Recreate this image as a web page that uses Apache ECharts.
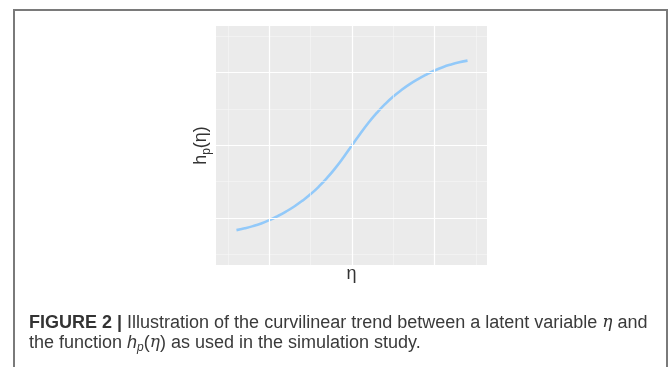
<!DOCTYPE html>
<html lang="en">
<head>
<meta charset="UTF-8">
<title>hp(eta)</title>
<script src="https://cdn.jsdelivr.net/npm/echarts@6.0.0/dist/echarts.min.js"></script>
<style>
  body { margin: 0; padding: 0; background: #fff; }
  #main { width: 670px; height: 367px; }
</style>
</head>
<body>
<div id="main"></div>
<script>
  // values
  var etaValues = [-1.4, -1.3, -1.2, -1.1, -1.0, -0.9, -0.8, -0.7, -0.6, -0.5, -0.4, -0.3, -0.2, -0.1, 0,
                   0.1, 0.2, 0.3, 0.4, 0.5, 0.6, 0.7, 0.8, 0.9, 1.0, 1.1, 1.2, 1.3, 1.4];
  var hpValues = [-1.165, -1.14, -1.11, -1.073, -1.027, -0.972, -0.91, -0.84, -0.76, -0.67, -0.565, -0.445, -0.31, -0.16, 0,
                  0.16, 0.31, 0.445, 0.565, 0.67, 0.76, 0.84, 0.91, 0.972, 1.027, 1.073, 1.11, 1.14, 1.163];
  var majorX = [-1, 0, 1];
  var minorX = [-1.5, -0.5, 0.5, 1.5];
  var majorY = [-1, 0, 1];
  var minorY = [-1.5, -0.5, 0.5, 1.5];

  var curve = etaValues.map(function (x, i) { return [x, hpValues[i]]; });

  function gridLines(xs, ys) {
    var d = [];
    xs.forEach(function (v) { d.push({ xAxis: v }); });
    ys.forEach(function (v) { d.push({ yAxis: v }); });
    return d;
  }

  var chart = echarts.init(document.getElementById('main'));
  var option = {
    animation: false,
    grid: {
      left: 216, top: 26, width: 271, height: 239,
      show: true, backgroundColor: '#ebebeb', borderWidth: 0
    },
    xAxis: {
      type: 'value', min: -1.648, max: 1.636,
      axisLine: { show: false }, axisTick: { show: false },
      axisLabel: { show: false }, splitLine: { show: false },
      name: 'η', nameLocation: 'middle', nameGap: 0,
      nameTextStyle: { fontFamily: 'Liberation Sans', fontSize: 18, color: '#333', verticalAlign: 'top' }
    },
    yAxis: {
      type: 'value', min: -1.644, max: 1.639,
      axisLine: { show: false }, axisTick: { show: false },
      axisLabel: { show: false }, splitLine: { show: false },
      name: 'h{s|p}(η)', nameLocation: 'middle', nameGap: 15,
      nameTextStyle: {
        fontFamily: 'Liberation Sans', fontSize: 18, color: '#333',
        lineHeight: 24, verticalAlign: 'middle',
        rich: {
          s: { fontFamily: 'Liberation Sans', fontSize: 12, lineHeight: 12, color: '#333', verticalAlign: 'bottom' }
        }
      }
    },
    series: [
      {
        type: 'line', data: [], silent: true,
        markLine: {
          silent: true, symbol: 'none', label: { show: false },
          lineStyle: { color: '#f7f7f7', width: 0.6, type: 'solid' },
          data: gridLines(minorX, minorY)
        }
      },
      {
        type: 'line', data: [], silent: true,
        markLine: {
          silent: true, symbol: 'none', label: { show: false },
          lineStyle: { color: '#ffffff', width: 1.2, type: 'solid' },
          data: gridLines(majorX, majorY)
        }
      },
      {
        type: 'line', data: curve, smooth: true, showSymbol: false,
        lineStyle: { color: '#92c9f9', width: 2.6 }
      }
    ],
    graphic: [
      {
        type: 'rect', shape: { x: 14, y: 10, width: 653, height: 400 },
        style: { fill: 'none', stroke: '#7a7a7a', lineWidth: 2 }
      },
      {
        type: 'text', left: 29, top: 313,
        style: {
          text: '{b|FIGURE 2 |} Illustration of the curvilinear trend between a latent variable {i|η} and',
          fontFamily: 'Liberation Sans', fontSize: 18, fill: '#3a3a3a', lineHeight: 20,
          rich: {
            b: { fontFamily: 'Liberation Sans', fontWeight: 'bold', fontSize: 18, fill: '#333', lineHeight: 20 },
            i: { fontFamily: 'DejaVu Serif', fontStyle: 'italic', fontSize: 17, fill: '#333', lineHeight: 20 }
          }
        }
      },
      {
        type: 'text', left: 29, top: 332,
        style: {
          text: 'the function {i|h}{s|p}({e|η}) as used in the simulation study.',
          fontFamily: 'Liberation Sans', fontSize: 18, fill: '#3a3a3a',
          lineHeight: 22,
          rich: {
            i: { fontFamily: 'Liberation Sans', fontStyle: 'italic', fontSize: 18, fill: '#3a3a3a', lineHeight: 22, verticalAlign: 'middle' },
            e: { fontFamily: 'DejaVu Serif', fontStyle: 'italic', fontSize: 17, fill: '#3a3a3a', lineHeight: 22, verticalAlign: 'middle' },
            s: { fontFamily: 'Liberation Sans', fontStyle: 'italic', fontSize: 12, fill: '#3a3a3a', lineHeight: 12, verticalAlign: 'bottom' }
          }
        }
      }
    ]
  };
  chart.setOption(option);
</script>
</body>
</html>
